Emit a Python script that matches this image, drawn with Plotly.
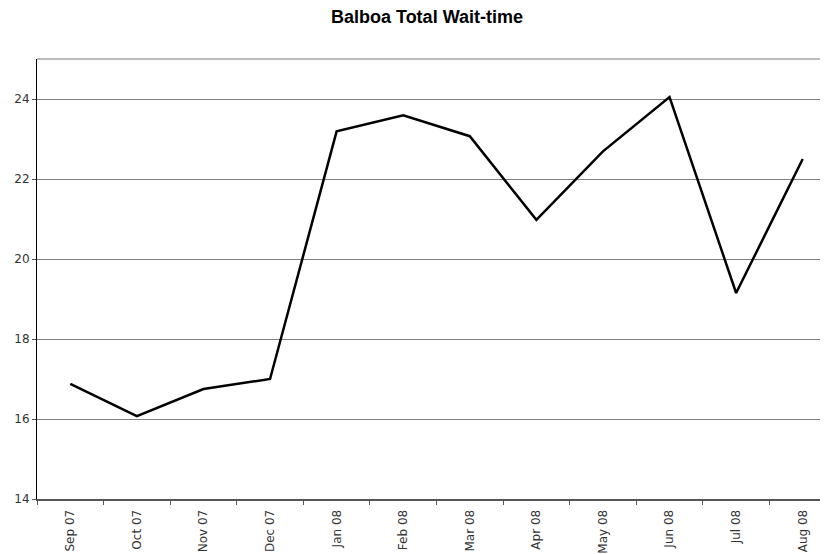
import plotly.graph_objects as go

months = ['Sep 07', 'Oct 07', 'Nov 07', 'Dec 07', 'Jan 08', 'Feb 08',
          'Mar 08', 'Apr 08', 'May 08', 'Jun 08', 'Jul 08', 'Aug 08']
wait_time = [16.88, 16.07, 16.75, 17.0, 23.19, 23.59,
             23.07, 20.98, 22.69, 24.05, 19.15, 22.5]
y_ticks = [14, 16, 18, 20, 22, 24]

fig = go.Figure()
fig.add_trace(go.Scatter(x=months, y=wait_time, mode='lines',
                         line=dict(color='black', width=2.5), showlegend=False))

# page body adds an 8px offset, so margins are shifted to compensate
fig.update_layout(
    width=828, height=554,
    margin=dict(l=29, r=0, t=51, b=63, autoexpand=False),
    paper_bgcolor='white', plot_bgcolor='white',
    font=dict(family='DejaVu Sans', size=12, color='#333333'),
    title=dict(text='<b>Balboa Total Wait-time</b>', x=0.506, xanchor='center',
               y=1 - 9 / 554, yanchor='middle', automargin=False,
               font=dict(family='Liberation Sans, Arial', size=18, color='black')),
    shapes=[dict(type='line', xref='paper', yref='paper', x0=0, x1=1, y0=1, y1=1,
                 line=dict(color='#a6a6a6', width=1.5))],
)

fig.update_xaxes(type='category', range=[-0.5, 11.5], tickson='boundaries',
                 ticks='outside', ticklen=4, tickcolor='#555555', tickangle=-90,
                 ticklabelstandoff=4,
                 showline=True, linecolor='#555555', linewidth=2, automargin=False,
                 showgrid=False, tickfont=dict(size=12, color='#333333'))
fig.update_yaxes(range=[14, 25], tickvals=y_ticks, ticks='outside', ticklen=4,
                 tickcolor='#555555', showline=True, linecolor='black', linewidth=1,
                 showgrid=True, gridcolor='#808080', gridwidth=1, zeroline=False,
                 automargin=False, tickfont=dict(size=12, color='#333333'))

fig.write_html("out.html")
